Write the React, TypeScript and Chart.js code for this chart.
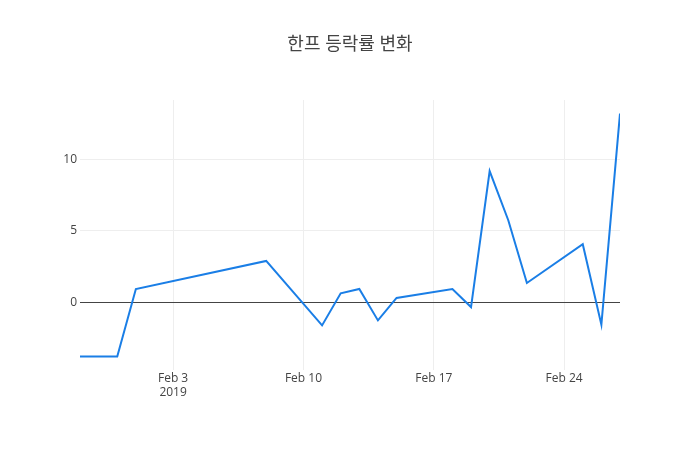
import React, { useEffect, useRef } from "react";
import { Chart, registerables } from "chart.js";

Chart.register(...registerables);

const titleText = "한프 등락률 변화";
const dates = [
  "2019-01-29", "2019-01-31", "2019-02-01", "2019-02-08", "2019-02-11",
  "2019-02-12", "2019-02-13", "2019-02-14", "2019-02-15", "2019-02-18",
  "2019-02-19", "2019-02-20", "2019-02-21", "2019-02-22", "2019-02-25",
  "2019-02-26", "2019-02-27",
];
const values = [
  -3.76, -3.76, 0.95, 2.91, -1.59,
  0.65, 0.95, -1.24, 0.33, 0.95,
  -0.31, 9.18, 5.75, 1.37, 4.08,
  -1.54, 13.2,
];
const xTickDates = ["2019-02-03", "2019-02-10", "2019-02-17", "2019-02-24"];
const yTickValues = [0, 5, 10];
const monthNames = ["Jan", "Feb", "Mar", "Apr", "May", "Jun", "Jul", "Aug", "Sep", "Oct", "Nov", "Dec"];

const DAY = 86400000;
const toDay = (s: string) => {
  const [y, m, d] = s.split("-").map(Number);
  return Date.UTC(y, m - 1, d) / DAY;
};

export default function App() {
  const ref = useRef<HTMLCanvasElement>(null);
  useEffect(() => {
    if (!ref.current) return;
    const pts = dates.map((d, i) => ({ x: toDay(d), y: values[i] }));
    const xMin = toDay(dates[0]);
    const xMax = toDay(dates[dates.length - 1]);
    const yMin = Math.min(...values);
    const yMax = Math.max(...values);
    const pad = (yMax - yMin) * 0.0556;
    const font = { family: "'Open Sans', sans-serif", size: 12 };
    const chart = new Chart(ref.current, {
      type: "line",
      data: {
        datasets: [
          {
            data: pts,
            borderColor: "#1a7ee6",
            borderWidth: 2,
            pointRadius: 0,
            fill: false,
            tension: 0,
          },
        ],
      },
      options: {
        animation: false,
        responsive: true,
        maintainAspectRatio: false,
        layout: { padding: 0 },
        plugins: {
          legend: { display: false },
          tooltip: { enabled: false },
          title: {
            display: true,
            text: titleText,
            color: "#444",
            font: { family: "'Open Sans', 'Noto Sans CJK KR', sans-serif", size: 18, weight: "normal" },
            padding: { top: 34, bottom: 44.4 },
          },
        },
        scales: {
          x: {
            type: "linear",
            min: xMin,
            max: xMax,
            afterBuildTicks: (s: any) => {
              s.ticks = xTickDates.map((d) => ({ value: toDay(d) }));
            },
            afterFit: (s: any) => {
              s.height = 80;
            },
            border: { display: false },
            grid: { color: "#eee", drawTicks: false, lineWidth: 1 },
            ticks: {
              color: "#444",
              font,
              padding: 1,
              maxRotation: 0,
              autoSkip: false,
              callback: (v: any, i: number) => {
                const dt = new Date(Number(v) * DAY);
                const lab = `${monthNames[dt.getUTCMonth()]} ${dt.getUTCDate()}`;
                return i === 0 ? [lab, String(dt.getUTCFullYear())] : lab;
              },
            },
          },
          y: {
            type: "linear",
            min: yMin - pad,
            max: yMax + pad,
            afterBuildTicks: (s: any) => {
              s.ticks = yTickValues.map((v) => ({ value: v }));
            },
            afterFit: (s: any) => {
              s.width = 80;
            },
            border: { display: false },
            grid: {
              color: (c: any) => (c.tick && c.tick.value === 0 ? "#444" : "#eee"),
              drawTicks: false,
              lineWidth: 1,
            },
            ticks: { color: "#444", font, padding: 3 },
          },
          yRight: {
            type: "linear",
            position: "right",
            display: true,
            afterFit: (s: any) => {
              s.width = 80;
            },
            border: { display: false },
            grid: { display: false, drawTicks: false },
            ticks: { display: false },
          },
        },
      },
    } as any);
    return () => chart.destroy();
  }, []);
  return (
    <div style={{ position: "fixed", left: 0, top: 0, width: 700, height: 450, background: "#fff" }}>
      <canvas ref={ref} />
    </div>
  );
}
